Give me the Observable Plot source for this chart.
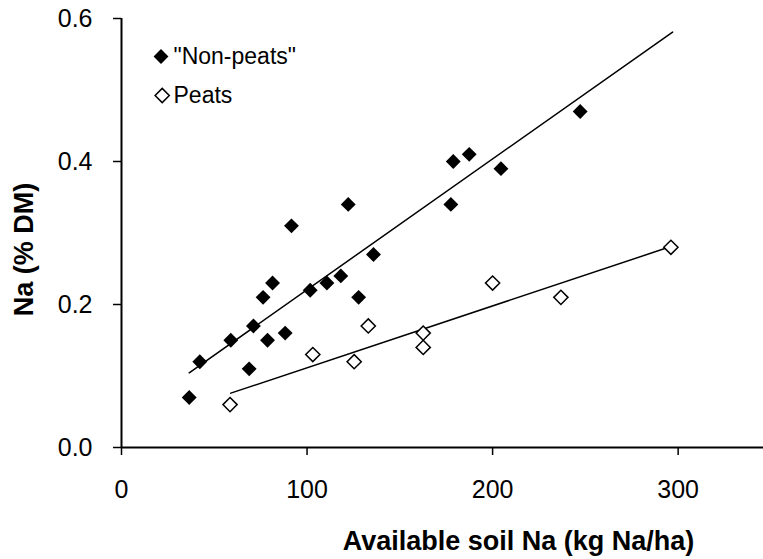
<!DOCTYPE html>
<html><head><meta charset="utf-8">
<script src="https://cdn.jsdelivr.net/npm/d3@7"></script>
<script src="https://cdn.jsdelivr.net/npm/@observablehq/plot@0.6"></script>
<style>
body{margin:0;background:#fff}
svg{font-family: Arial, "Liberation Sans", sans-serif}
</style>
</head><body><div id="chart"></div>
<script>
// Data
const nonPeatSoilNa = [36.5, 42.2, 58.9, 68.8, 71.1, 76.3, 78.7, 81.4, 88.2, 91.6, 101.7, 110.7, 118.2, 122.2, 127.8, 135.8, 177.5, 178.8, 187.4, 204.5, 247.2];
const nonPeatNa     = [0.07, 0.12, 0.15, 0.11, 0.17, 0.21, 0.15, 0.23, 0.16, 0.31, 0.22, 0.23, 0.24, 0.34, 0.21, 0.27, 0.34, 0.40, 0.41, 0.39, 0.47];
const peatSoilNa = [58.5, 103.1, 125.4, 133, 162.6, 162.6, 200, 236.8, 296.1];
const peatNa     = [0.06, 0.13, 0.12, 0.17, 0.16, 0.14, 0.23, 0.21, 0.28];
const seriesNames = ['"Non-peats"', 'Peats'];
// Trend line end points
const nonPeatTrendX = [36.5, 297];
const nonPeatTrendY = [0.1045, 0.581];
const peatTrendX = [58.9, 296];
const peatTrendY = [0.076, 0.281];
// Axes
const xTicks = [0, 100, 200, 300];
const yTicks = [0, 0.2, 0.4, 0.6];
const xDomain = [0, 346];
const yDomain = [0, 0.6];
const xTitle = "Available soil Na (kg Na/ha)";
const yTitle = "Na (% DM)";

const nonPeat = nonPeatSoilNa.map((x, i) => ({x, y: nonPeatNa[i]}));
const peat = peatSoilNa.map((x, i) => ({x, y: peatNa[i]}));
const nonPeatTrend = nonPeatTrendX.map((x, i) => ({x, y: nonPeatTrendY[i]}));
const peatTrend = peatTrendX.map((x, i) => ({x, y: peatTrendY[i]}));

const chart = Plot.plot({
  width: 763,
  height: 559,
  marginLeft: 121,
  marginRight: 0,
  marginTop: 18,
  marginBottom: 112,
  x: {domain: xDomain},
  y: {domain: yDomain},
  marks: [
    Plot.axisX({ticks: xTicks, tickSize: 8, tickPadding: 25, fontSize: 25, strokeWidth: 1.5, label: null, tickFormat: d3.format("d")}),
    Plot.axisY({ticks: yTicks, tickSize: 8, tickPadding: 21, fontSize: 25, strokeWidth: 1.5, label: null, tickFormat: d3.format(".1f")}),
    Plot.ruleY([0], {stroke: "black", strokeWidth: 2}),
    Plot.ruleX([0], {stroke: "black", strokeWidth: 2}),
    Plot.line(nonPeatTrend, {x: "x", y: "y", stroke: "black", strokeWidth: 1.5}),
    Plot.line(peatTrend, {x: "x", y: "y", stroke: "black", strokeWidth: 1.5}),
    Plot.dot(nonPeat, {x: "x", y: "y", symbol: "diamond2", r: 6.7, fill: "black", stroke: "none"}),
    Plot.dot(peat, {x: "x", y: "y", symbol: "diamond2", r: 6.4, fill: "white", stroke: "black", strokeWidth: 1.5}),
    // legend
    Plot.dot([seriesNames[0]], {frameAnchor: "top-left", dx: 39.5, dy: 38, symbol: "diamond2", r: 6.7, fill: "black", stroke: "none"}),
    Plot.dot([seriesNames[1]], {frameAnchor: "top-left", dx: 40.7, dy: 77, symbol: "diamond2", r: 6.4, fill: "white", stroke: "black", strokeWidth: 1.5}),
    Plot.text([seriesNames[0]], {text: d => d, frameAnchor: "top-left", dx: 52, dy: 38, textAnchor: "start", lineAnchor: "middle", fontSize: 23, fill: "black"}),
    Plot.text([seriesNames[1]], {text: d => d, frameAnchor: "top-left", dx: 52, dy: 77, textAnchor: "start", lineAnchor: "middle", fontSize: 23, fill: "black"}),
    // axis titles
    Plot.text([xTitle], {text: d => d, frameAnchor: "bottom", dx: 76, dy: 102, textAnchor: "middle", lineAnchor: "bottom", fontSize: 27, fontWeight: "bold", fill: "black"}),
    Plot.text([yTitle], {text: d => d, frameAnchor: "left", dx: -97, dy: 16.5, rotate: -90, textAnchor: "middle", lineAnchor: "middle", fontSize: 27, fontWeight: "bold", fill: "black"})
  ]
});
document.getElementById("chart").appendChild(chart);
</script>
</body></html>
